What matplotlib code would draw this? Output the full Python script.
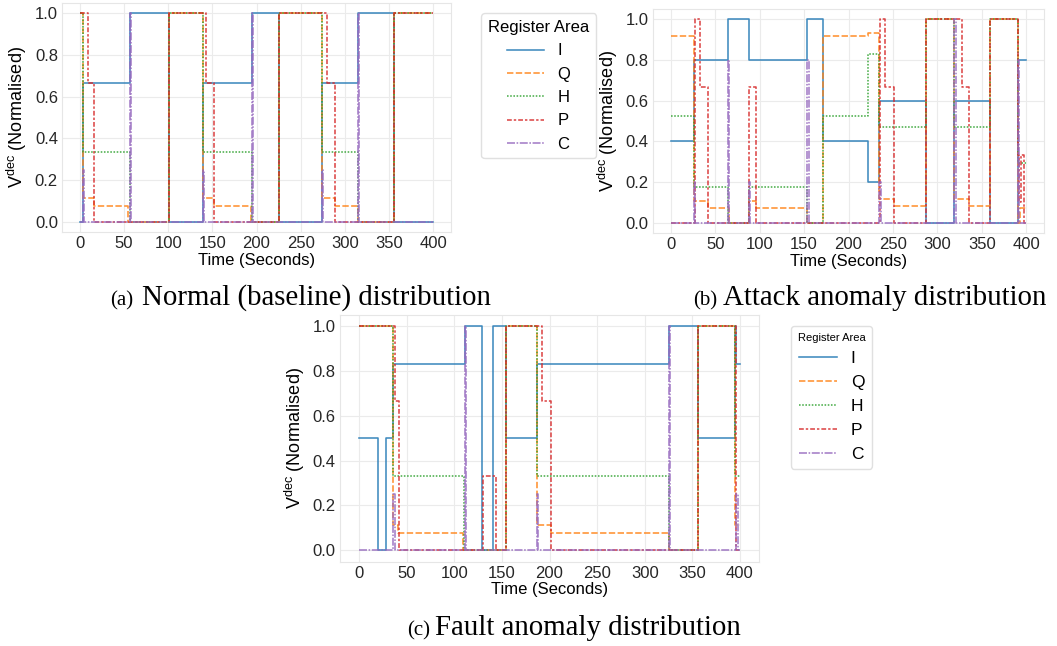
import matplotlib
matplotlib.use('Agg')
import matplotlib.pyplot as plt

plt.rcParams['font.family'] = ['Liberation Sans', 'DejaVu Sans']
plt.rcParams['mathtext.fontset'] = 'custom'
plt.rcParams['mathtext.rm'] = 'Liberation Sans'

areas = ['I', 'Q', 'H', 'P', 'C']
colors = ['#1f77b4', '#ff7f0e', '#2ca02c', '#d62728', '#9467bd']
dashes = [None, (4, 1.5), (1, 1), (3, 1.25, 1.5, 1.25), (5, 1, 1, 1)]

# (a) normal / baseline
I_a_t = [0, 3.5, 56.5, 100.5, 139, 195, 225.5, 274, 314.5, 356, 400]
I_a_v = [0, 0.667, 1, 0, 0.667, 1, 0, 0.667, 1, 0, 0]
Q_a_t = [0, 3.5, 15.8, 54.6, 100.5, 139, 152, 194, 225.5, 274, 289, 314.5, 356, 400]
Q_a_v = [1, 0.111, 0.074, 0, 1, 0.111, 0.074, 0, 1, 0.111, 0.074, 0, 1, 1]
H_a_t = [0, 3.5, 56.5, 100.5, 139, 195, 225.5, 274, 314.5, 356, 400]
H_a_v = [1, 0.333, 0, 1, 0.333, 0, 1, 0.333, 0, 1, 1]
P_a_t = [0, 9, 15.8, 100.5, 142.5, 152, 225.5, 279.5, 289, 356, 400]
P_a_v = [1, 0.667, 0, 1, 0.667, 0, 1, 0.667, 0, 1, 1]
C_a_t = [0, 3.5, 5, 56.5, 58, 139, 140.5, 195, 196.5, 274, 275.5, 314.5, 316, 400]
C_a_v = [0, 0.25, 0, 1, 0, 0.25, 0, 1, 0, 0.25, 0, 1, 0, 0]

# (b) attack anomaly
I_b_t = [0, 25.9, 64.6, 87.9, 153.6, 170.9, 222.3, 234.7, 287.3, 318.9, 359.4, 390.6, 400]
I_b_v = [0.4, 0.8, 1, 0.8, 1, 0.4, 0.2, 0.6, 0, 0.6, 0, 0.8, 0.8]
Q_b_t = [0, 25.9, 42, 65.7, 88, 95.4, 153.6, 171, 222.3, 234.7, 251.6, 287.3, 318.9, 335, 359.4, 390.6, 393, 400]
Q_b_v = [0.918, 0.105, 0.074, 0, 0.105, 0.074, 0, 0.918, 0.93, 0.118, 0.083, 1, 0.118, 0.083, 1, 0, 0.072, 0.072]
H_b_t = [0, 25.9, 64.6, 87.9, 153.6, 170.9, 222.3, 234.7, 287.3, 318.9, 359.4, 390.6, 400]
H_b_v = [0.527, 0.177, 0, 0.177, 0, 0.527, 0.828, 0.473, 1, 0.473, 1, 0.296, 0.296]
P_b_t = [0, 27, 32.7, 41.3, 88.3, 95.4, 235.5, 241, 251.6, 287.3, 327.5, 335, 359.4, 390.6, 392, 393.5, 397, 400]
P_b_v = [0, 1, 0.667, 0, 0.667, 0, 1, 0.667, 0, 1, 0.667, 0, 1, 0.333, 0.1, 0.333, 0, 0]
C_b_t = [0, 25.9, 27, 64.6, 66, 87.9, 89, 153.6, 155, 234.7, 236, 318.9, 320.5, 390.6, 392, 400]
C_b_v = [0, 0.2, 0, 0.8, 0, 0.2, 0, 0.8, 0, 0.2, 0, 1, 0, 0.8, 0, 0]

# (c) fault anomaly
I_c_t = [0, 20.3, 28, 36, 111.3, 129.5, 141, 154.3, 186.5, 325.5, 355.6, 394.7, 396, 400]
I_c_v = [0.5, 0, 0.5, 0.833, 1, 0, 1, 0.5, 0.833, 1, 0.5, 1, 0.833, 0.833]
Q_c_t = [0, 36, 41.3, 109.5, 154.3, 186.5, 202, 325, 355.6, 394.7, 400]
Q_c_v = [1, 0.112, 0.076, 0, 1, 0.112, 0.076, 0, 1, 0.112, 0.112]
H_c_t = [0, 36, 110, 154.3, 186.5, 325.5, 355.6, 394.7, 400]
H_c_v = [1, 0.333, 0, 1, 0.333, 0, 1, 0.333, 0.333]
P_c_t = [0, 38, 42, 130.5, 143.5, 154.3, 192.5, 202, 355.6, 396, 400]
P_c_v = [1, 0.667, 0, 0.333, 0, 1, 0.667, 0, 1, 0, 0]
C_c_t = [0, 36, 37.5, 111.3, 112.8, 186.5, 188, 325.5, 327, 396, 397.5, 400]
C_c_v = [0, 0.25, 0, 1, 0, 0.25, 0, 1, 0, 0.25, 0, 0]


def draw_panel(ax, series):
    for name, (t, v), c, d in zip(areas, series, colors, dashes):
        line, = ax.step(t, v, where='post', color=c, lw=1.15, alpha=0.85, label=name)
        if d is not None:
            line.set_dashes(d)
    ax.set_xticks(range(0, 401, 50))
    ax.set_yticks([0, 0.2, 0.4, 0.6, 0.8, 1.0])
    ax.set_xlabel('Time (Seconds)', fontsize=12, labelpad=1)
    ax.set_ylabel(r'V$^{\rm dec}$ (Normalised)', fontsize=13, labelpad=4)
    ax.grid(color='#ebebeb', lw=0.8)
    ax.set_axisbelow(True)
    for s in ax.spines.values():
        s.set_color('#e6e6e6')
    ax.tick_params(length=0, labelsize=12, pad=3, labelcolor='#262626')


def caption(fig, x_tag, x_text, y, tag, text):
    W, H = 1057, 646
    fig.text(x_tag / W, 1 - y / H, tag, fontsize=15, family='Liberation Serif', va='baseline')
    fig.text(x_text / W, 1 - y / H, text, fontsize=20.8, family='Liberation Serif', va='baseline')


fig = plt.figure(figsize=(10.57, 6.46), dpi=100)

ax_a = fig.add_axes([0.0587, 0.6409, 0.368, 0.3545])
draw_panel(ax_a, [(I_a_t, I_a_v), (Q_a_t, Q_a_v), (H_a_t, H_a_v), (P_a_t, P_a_v), (C_a_t, C_a_v)])

ax_b = fig.add_axes([0.6178, 0.6393, 0.370, 0.3467])
draw_panel(ax_b, [(I_b_t, I_b_v), (Q_b_t, Q_b_v), (H_b_t, H_b_v), (P_b_t, P_b_v), (C_b_t, C_b_v)])

ax_c = fig.add_axes([0.3217, 0.1308, 0.3964, 0.3816])
draw_panel(ax_c, [(I_c_t, I_c_v), (Q_c_t, Q_c_v), (H_c_t, H_c_v), (P_c_t, P_c_v), (C_c_t, C_c_v)])

leg_a = ax_a.legend(title='Register Area', loc='upper left', bbox_to_anchor=(473 / 1057, 1 - 5 / 646),
                    bbox_transform=fig.transFigure, fontsize=12, title_fontsize=12,
                    handlelength=2.2, edgecolor='#e0e0e0', framealpha=1)
leg_c = ax_c.legend(title='Register Area', loc='upper left', bbox_to_anchor=(782 / 1057, 1 - 317 / 646),
                    bbox_transform=fig.transFigure, fontsize=12.5, title_fontsize=8,
                    handlelength=2.2, edgecolor='#e0e0e0', framealpha=1)

caption(fig, 110, 142, 305, '(a)', 'Normal (baseline) distribution')
caption(fig, 693, 723, 305, '(b)', 'Attack anomaly distribution')
caption(fig, 407, 435, 635, '(c)', 'Fault anomaly distribution')

fig.savefig('out.png', dpi=100)
